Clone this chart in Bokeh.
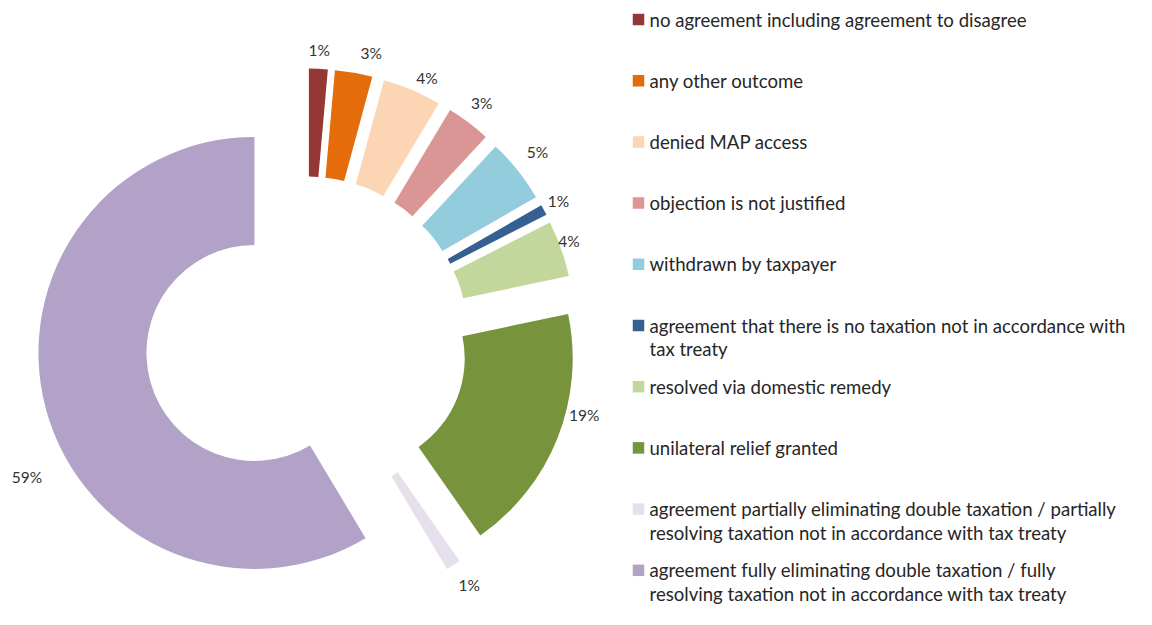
import math
import textwrap
from bokeh.plotting import figure
from bokeh.models import Range1d, ColumnDataSource
from bokeh.core.properties import value
from bokeh.embed import file_html
from bokeh.resources import INLINE

# ---------------- data ----------------
categories = [
    "no agreement including agreement to disagree",
    "any other outcome",
    "denied MAP access",
    "objection is not justified",
    "withdrawn by taxpayer",
    "agreement that there is no taxation not in accordance with tax treaty",
    "resolved via domestic remedy",
    "unilateral relief granted",
    "agreement partially eliminating double taxation  / partially resolving taxation not in accordance with tax treaty",
    "agreement fully eliminating double taxation  / fully resolving taxation not in accordance with tax treaty",
]
shares = [1.4, 2.8, 4.4, 3.3, 4.8, 0.8, 4.2, 18.6, 1.1, 58.6]
colors = ["#953735", "#E46C0A", "#FCD5B5", "#D99694", "#93CDDD",
          "#376092", "#C3D69B", "#77933C", "#E6E0EC", "#B3A2C7"]

# ---------------- layout ----------------
W, H = 1136, 609
TOP = 625
def dy(sy):  # screen y -> data y
    return TOP - sy

OX, OY = 306.0, dy(338.0)
R_OUT, R_IN, EXPLODE = 216.0, 108.0, 54.0
LABEL_GAP = 20.0
# small per-label nudges (screen px) mimicking manual label placement
label_nudge = [(0, 1), (14, 0), (7, 6), (1, -4), (4, -6), (-3, 1),
               (-11, -1), (8, -30), (5, 3), (0, 61)]

total = sum(shares)
cx, cy, sa, ea, lx, ly, lab = [], [], [], [], [], [], []
cum = 0.0
for i, v in enumerate(shares):
    t1 = cum / total * 360.0
    cum += v
    t2 = cum / total * 360.0
    tm = math.radians((t1 + t2) / 2)
    x0 = OX + EXPLODE * math.sin(tm)
    y0 = OY + EXPLODE * math.cos(tm)
    cx.append(x0); cy.append(y0)
    sa.append(math.radians(90 - t2)); ea.append(math.radians(90 - t1))
    r = R_OUT + LABEL_GAP
    nx, ny = label_nudge[i]
    lx.append(x0 + r * math.sin(tm) + nx)
    ly.append(y0 + r * math.cos(tm) - ny)
    lab.append(f"{round(v)}%")

src = ColumnDataSource(dict(x=cx, y=cy, start=sa, end=ea, color=colors,
                            lx=lx, ly=ly, lab=lab))

p = figure(width=W, height=H, output_backend="svg", toolbar_location=None,
           x_range=Range1d(0, W), y_range=Range1d(dy(H), dy(0)),
           min_border=0, x_axis_location=None, y_axis_location=None,
           outline_line_color=None, background_fill_color="white",
           border_fill_color="white")
p.grid.visible = False

p.annular_wedge(x="x", y="y", inner_radius=R_IN, outer_radius=R_OUT,
                start_angle="start", end_angle="end", fill_color="color",
                line_color=None, source=src)

p.text(x="lx", y="ly", text="lab", source=src, text_font=value("Lato"),
       text_font_size="15.5px", text_color="#333333",
       text_align="center", text_baseline="middle")

# ---------------- legend ----------------
LEG_SQ_X, LEG_TXT_X, LEG_TOP, LEG_STEP = 638.0, 649.0, 19.0, 61.2
LEG_FS = 18.6
LINE_PX = 24.0
wrapped = [textwrap.wrap(c, width=60) for c in categories]
txt = ["\n".join(w) for w in wrapped]
sq_y = [dy(LEG_TOP + i * LEG_STEP) for i in range(len(categories))]
tx_y = [y - (len(w) - 1) * LINE_PX / 2 for y, w in zip(sq_y, wrapped)]
leg = ColumnDataSource(dict(sx=[LEG_SQ_X] * len(categories),
                            tx=[LEG_TXT_X] * len(categories),
                            sy=sq_y, ty=tx_y, txt=txt, color=colors))
p.rect(x="sx", y="sy", width=11.5, height=11.5, fill_color="color",
       line_color=None, source=leg)
p.text(x="tx", y="ty", text="txt", source=leg, text_font=value("Lato"),
       text_font_size=f"{LEG_FS}px", text_color="#262626", text_align="left",
       text_baseline="middle", text_line_height=1.09)

open("out.html", "w").write(file_html(p, INLINE))
